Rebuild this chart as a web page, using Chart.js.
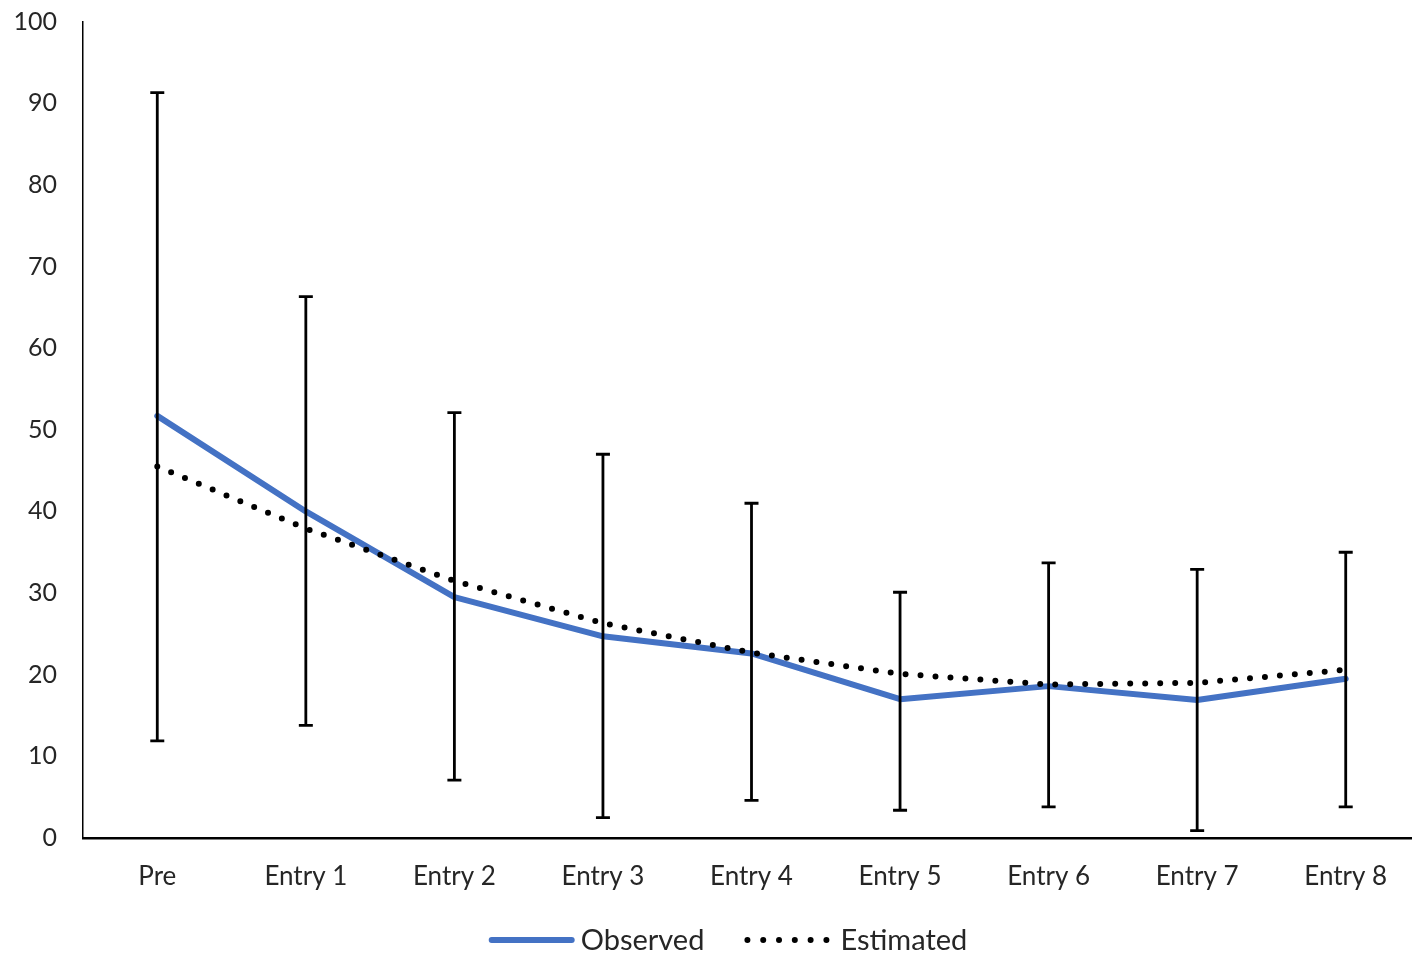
<!DOCTYPE html>
<html>
<head>
<meta charset="utf-8">
<script src="https://cdn.jsdelivr.net/npm/chart.js@4/dist/chart.umd.min.js"></script>
<style>
  html, body { margin: 0; padding: 0; background: #fff; overflow: hidden; width: 1412px; height: 954px; }
  canvas { display: block; }
</style>
</head>
<body>
<canvas id="c" width="1422" height="954"></canvas>
<script>
const categories = ['Pre', 'Entry 1', 'Entry 2', 'Entry 3', 'Entry 4', 'Entry 5', 'Entry 6', 'Entry 7', 'Entry 8'];
const observed  = [51.7, 40.0, 29.5, 24.7, 22.6, 17.0, 18.6, 16.9, 19.5];
const estimated = [45.5, 37.9, 31.5, 26.3, 22.7, 20.1, 18.8, 19.0, 20.6];
const errorHigh = [91.3, 66.3, 52.1, 47.0, 41.0, 30.1, 33.7, 32.9, 35.0];
const errorLow  = [11.9, 13.8, 7.1, 2.5, 4.6, 3.4, 3.8, 0.9, 3.8];
const yTicks = [0, 10, 20, 30, 40, 50, 60, 70, 80, 90, 100];

const FONT = 'Lato, "Open Sans", sans-serif';
const TEXT = '#262626';
const BLUE = '#4472C4';

const errorBars = {
  id: 'errorBars',
  afterDatasetsDraw(chart) {
    const {ctx, scales: {x, y}} = chart;
    ctx.save();
    ctx.strokeStyle = '#000';
    ctx.lineWidth = 2.8;
    ctx.lineCap = 'butt';
    categories.forEach((c, i) => {
      const px = x.getPixelForValue(i);
      const top = y.getPixelForValue(errorHigh[i]);
      const bot = y.getPixelForValue(errorLow[i]);
      ctx.beginPath();
      ctx.moveTo(px, top); ctx.lineTo(px, bot);
      ctx.moveTo(px - 7, top); ctx.lineTo(px + 7, top);
      ctx.moveTo(px - 7, bot); ctx.lineTo(px + 7, bot);
      ctx.stroke();
    });
    ctx.restore();
  }
};

const customLegend = {
  id: 'customLegend',
  afterDraw(chart) {
    const {ctx} = chart;
    const ds = chart.data.datasets;
    const lineLen = 85, cap = 3, itemGap = 40, cy = 940, centre = 728;
    const gaps = ds.map(d => (d.borderDash && d.borderDash.length) ? 11 : 7);
    ctx.save();
    ctx.font = '29px ' + FONT;
    ctx.textBaseline = 'middle';
    ctx.textAlign = 'left';
    const widths = ds.map(d => ctx.measureText(d.label).width);
    let total = itemGap * (ds.length - 1);
    ds.forEach((d, i) => { total += lineLen + gaps[i] + widths[i]; });
    let x = centre - total / 2;
    ds.forEach((d, i) => {
      ctx.beginPath();
      ctx.strokeStyle = d.borderColor;
      ctx.lineWidth = d.borderWidth;
      ctx.lineCap = 'round';
      const span = lineLen - 2 * cap;
      if (d.borderDash && d.borderDash.length) {
        ctx.setLineDash([0, span / 5]);
      } else {
        ctx.setLineDash([]);
      }
      ctx.moveTo(x + cap, cy);
      ctx.lineTo(x + cap + span + 1, cy);
      ctx.stroke();
      ctx.setLineDash([]);
      ctx.fillStyle = TEXT;
      ctx.fillText(d.label, x + lineLen + gaps[i], cy + 1);
      x += lineLen + gaps[i] + widths[i] + itemGap;
    });
    ctx.restore();
  }
};

new Chart(document.getElementById('c'), {
  type: 'line',
  data: {
    labels: categories,
    datasets: [
      {
        label: 'Observed',
        data: observed,
        borderColor: BLUE,
        backgroundColor: BLUE,
        borderWidth: 6,
        borderCapStyle: 'round',
        borderJoinStyle: 'round',
        pointRadius: 0,
        tension: 0,
        order: 2
      },
      {
        label: 'Estimated',
        data: estimated,
        borderColor: '#000',
        backgroundColor: '#000',
        borderWidth: 6,
        borderDash: [0, 15],
        borderCapStyle: 'round',
        pointRadius: 0,
        tension: 0,
        order: 1
      }
    ]
  },
  options: {
    responsive: false,
    animation: false,
    layout: { padding: { top: 21.5, left: 0, right: 2, bottom: 62 } },
    plugins: {
      tooltip: { enabled: false },
      legend: { display: false }
    },
    scales: {
      x: {
        offset: true,
        grid: { display: false, drawTicks: false, offset: true },
        border: { display: true, color: '#000', width: 2.5 },
        ticks: { color: TEXT, font: { family: FONT, size: 26 }, padding: 23, maxRotation: 0, autoSkip: false },
        afterFit(scale) { scale.height = 54; scale.paddingLeft = 0; scale.paddingRight = 0; }
      },
      y: {
        min: 0, max: 100,
        afterBuildTicks(scale) { scale.ticks = yTicks.map(v => ({ value: v })); },
        grid: { display: false, drawTicks: false },
        border: { display: true, color: '#000', width: 1.5 },
        ticks: { color: TEXT, font: { family: FONT, size: 25 }, padding: 26 },
        afterFit(scale) { scale.width = 83; scale.paddingTop = 0; scale.paddingBottom = 0; }
      }
    }
  },
  plugins: [errorBars, customLegend]
});
</script>
</body>
</html>
